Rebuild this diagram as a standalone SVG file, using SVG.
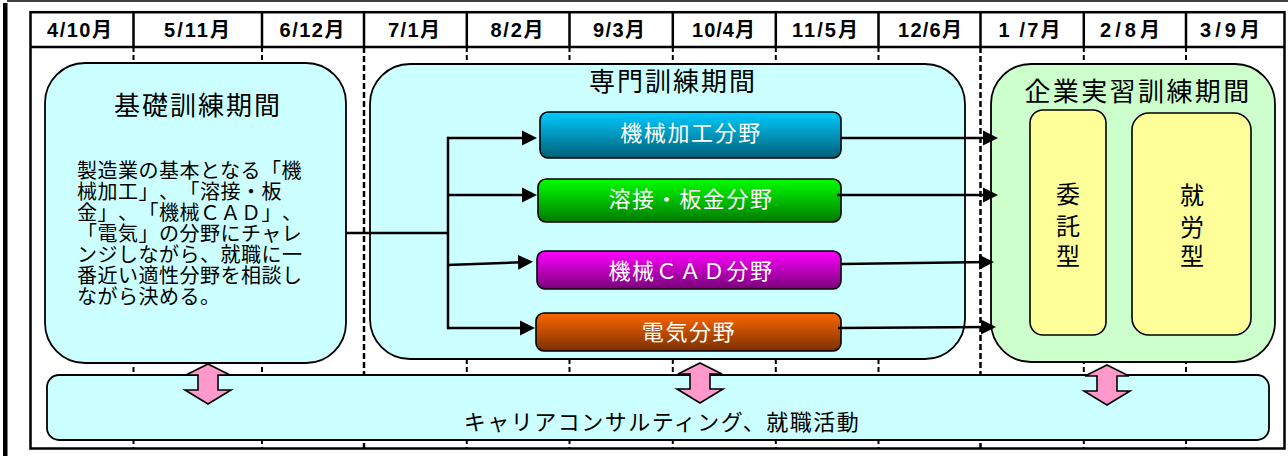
<svg xmlns="http://www.w3.org/2000/svg" width="1288" height="456" viewBox="0 0 1288 456">
<defs>
<style>
text{text-spacing-trim:space-all;}
.jp{font-family:"Noto Sans CJK JP","Noto Sans CJK SC",sans-serif;}
.hd{font-family:"Liberation Sans","Noto Sans CJK JP",sans-serif;font-weight:bold;font-size:20px;fill:#000;text-anchor:middle;}
.title{font-size:26px;letter-spacing:2px;text-anchor:middle;fill:#000;}
.body{font-size:20px;letter-spacing:0.5px;fill:#000;}
.sub{font-size:22px;letter-spacing:1.6px;text-anchor:middle;fill:#fff;}
.vert{font-size:24px;text-anchor:middle;fill:#000;}
.box{stroke:#000;stroke-width:1.8;}
.sbox{stroke:#000;stroke-width:1.6;}
.con{fill:none;stroke:#000;stroke-width:2.5;}
.dl{stroke:#000;stroke-width:2;stroke-dasharray:5 3;}
.dh{stroke:#000;stroke-width:2.5;stroke-dasharray:6 3;}
.pink{fill:#FF99CC;stroke:#000;stroke-width:1.6;stroke-linejoin:miter;}
</style>
<marker id="ah" markerUnits="userSpaceOnUse" markerWidth="16" markerHeight="16" refX="10" refY="8" orient="auto" viewBox="0 0 16 16">
<path d="M0,0.5 L15,8 L0,15.5 Z" fill="#000"/>
</marker>
<linearGradient id="gBlue" x1="0" y1="0" x2="0" y2="1"><stop offset="0" stop-color="#00CCFF"/><stop offset="1" stop-color="#005F78"/></linearGradient>
<linearGradient id="gGreen" x1="0" y1="0" x2="0" y2="1"><stop offset="0" stop-color="#00FF00"/><stop offset="1" stop-color="#007A00"/></linearGradient>
<linearGradient id="gMag" x1="0" y1="0" x2="0" y2="1"><stop offset="0" stop-color="#FF00FF"/><stop offset="1" stop-color="#7A007A"/></linearGradient>
<linearGradient id="gOrange" x1="0" y1="0" x2="0" y2="1"><stop offset="0" stop-color="#FF6600"/><stop offset="1" stop-color="#7A3000"/></linearGradient>
<path id="dbl" d="M0,0 L22,11 L10,11 L10,26 L23,26 L0,40 L-23,26 L-10,26 L-10,11 L-22,11 Z"/>
</defs>
<rect width="1288" height="456" fill="#fff"/>
<!-- page borders -->
<line x1="7" y1="1" x2="1288" y2="1" stroke="#000" stroke-width="1.5"/>
<rect x="3" y="3" width="4.5" height="453" fill="#000"/>

<!-- timeline grid -->
<g id="grid">
<g id="guides">
<line class="dl" x1="133.5" y1="47" x2="133.5" y2="448"/>
<line class="dl" x1="262" y1="47" x2="262" y2="448"/>
<line class="dh" x1="364" y1="47" x2="364" y2="448"/>
<line class="dl" x1="466.8" y1="47" x2="466.8" y2="448"/>
<line class="dl" x1="569.5" y1="47" x2="569.5" y2="448"/>
<line class="dl" x1="672.8" y1="47" x2="672.8" y2="448"/>
<line class="dl" x1="775.8" y1="47" x2="775.8" y2="448"/>
<line class="dl" x1="878.5" y1="47" x2="878.5" y2="448"/>
<line class="dh" x1="980.5" y1="47" x2="980.5" y2="448"/>
<line class="dl" x1="1083.8" y1="47" x2="1083.8" y2="448"/>
<line class="dl" x1="1186" y1="47" x2="1186" y2="448"/>
</g>
<rect x="30.5" y="12.2" width="1254" height="436.3" fill="none" stroke="#000" stroke-width="2.5"/>
<line x1="30.5" y1="47" x2="1284.5" y2="47" stroke="#000" stroke-width="2.5"/>
<g stroke="#000" stroke-width="2.5">
<line x1="133.5" y1="12" x2="133.5" y2="47"/>
<line x1="262" y1="12" x2="262" y2="47"/>
<line x1="364" y1="12" x2="364" y2="47"/>
<line x1="466.8" y1="12" x2="466.8" y2="47"/>
<line x1="569.5" y1="12" x2="569.5" y2="47"/>
<line x1="672.8" y1="12" x2="672.8" y2="47"/>
<line x1="775.8" y1="12" x2="775.8" y2="47"/>
<line x1="878.5" y1="12" x2="878.5" y2="47"/>
<line x1="980.5" y1="12" x2="980.5" y2="47"/>
<line x1="1083.8" y1="12" x2="1083.8" y2="47"/>
<line x1="1186" y1="12" x2="1186" y2="47"/>
</g>
<g id="months">
<text class="hd" x="79.5" y="37" textLength="65" lengthAdjust="spacing">4/10月</text>
<text class="hd" x="197" y="37" textLength="66" lengthAdjust="spacing">5/11月</text>
<text class="hd" x="312" y="37" textLength="65" lengthAdjust="spacing">6/12月</text>
<text class="hd" x="414" y="37" textLength="52" lengthAdjust="spacing">7/1月</text>
<text class="hd" x="517" y="37" textLength="53" lengthAdjust="spacing">8/2月</text>
<text class="hd" x="619" y="37" textLength="52" lengthAdjust="spacing">9/3月</text>
<text class="hd" x="723.5" y="37" textLength="63" lengthAdjust="spacing">10/4月</text>
<text class="hd" x="825" y="37" textLength="66" lengthAdjust="spacing">11/5月</text>
<text class="hd" x="930" y="37" textLength="64" lengthAdjust="spacing">12/6月</text>
<text class="hd" x="1029.5" y="37" textLength="62" lengthAdjust="spacing">1 /7月</text>
<text class="hd" x="1130" y="37" textLength="60" lengthAdjust="spacing">2/8月</text>
<text class="hd" x="1230" y="37" textLength="60" lengthAdjust="spacing">3/9月</text>
</g>
</g>

<!-- basic training -->
<g id="basic">
<rect class="box" x="45" y="63" width="301" height="300" rx="40" fill="#CCFFFF"/>
<text class="jp title" x="198" y="115">基礎訓練期間</text>
<text class="jp body" x="77" y="177.5">製造業の基本となる「機</text>
<text class="jp body" x="77" y="198.6">械加工」、「溶接・板</text>
<text class="jp body" x="77" y="219.7">金」、「機械ＣＡＤ」、</text>
<text class="jp body" x="77" y="240.8">「電気」の分野にチャレ</text>
<text class="jp body" x="77" y="261.9">ンジしながら、就職に一</text>
<text class="jp body" x="77" y="283">番近い適性分野を相談し</text>
<text class="jp body" x="77" y="304.1">ながら決める。</text>
</g>

<!-- specialist training -->
<g id="special">
<rect class="box" x="370" y="64" width="595" height="295" rx="40" fill="#CCFFFF"/>
<text class="jp title" x="673" y="91">専門訓練期間</text>
</g>
<g id="machining">
<rect class="sbox" x="540" y="112" width="301" height="46" rx="8" fill="url(#gBlue)"/>
<text class="jp sub" x="691" y="141">機械加工分野</text>
</g>
<g id="welding">
<rect class="sbox" x="538" y="179" width="303" height="43" rx="8" fill="url(#gGreen)"/>
<text class="jp sub" x="691" y="207">溶接・板金分野</text>
</g>
<g id="cad">
<rect class="sbox" x="537" y="251" width="304" height="38" rx="8" fill="url(#gMag)"/>
<text class="jp sub" x="691" y="279">機械ＣＡＤ分野</text>
</g>
<g id="electric">
<rect class="sbox" x="536" y="313" width="305" height="38" rx="8" fill="url(#gOrange)"/>
<text class="jp sub" x="689" y="340">電気分野</text>
</g>

<!-- enterprise training -->
<g id="enterprise">
<rect class="box" x="991" y="64" width="284" height="298" rx="40" fill="#CCFFCC"/>
<text class="jp title" x="1138" y="101" style="letter-spacing:2.4px">企業実習訓練期間</text>
</g>
<g id="itaku">
<rect class="sbox" x="1030" y="110" width="76" height="225" rx="13" fill="#FFFF99"/>
<text class="jp vert" x="1068" y="203">委</text>
<text class="jp vert" x="1068" y="235">託</text>
<text class="jp vert" x="1068" y="265">型</text>
</g>
<g id="shuro">
<rect class="sbox" x="1132" y="113" width="119" height="222" rx="17" fill="#FFFF99"/>
<text class="jp vert" x="1192" y="204">就</text>
<text class="jp vert" x="1192" y="236">労</text>
<text class="jp vert" x="1192" y="265">型</text>
</g>

<!-- career consulting -->
<g id="career">
<rect class="box" x="47" y="375" width="1222" height="65" rx="12" fill="#CCFFFF"/>
<text class="jp" x="662" y="430" font-size="22" letter-spacing="1.5" text-anchor="middle" fill="#000">キャリアコンサルティング、就職活動</text>
</g>

<!-- connectors -->
<g id="connectors">
<path class="con" d="M346,233 H448"/>
<path class="con" d="M448,136.8 V329.2"/>
<path class="con" d="M447,138 H532" marker-end="url(#ah)"/>
<path class="con" d="M447,195 H532" marker-end="url(#ah)"/>
<path class="con" d="M447,265 L528,262" marker-end="url(#ah)"/>
<path class="con" d="M447,328 H530" marker-end="url(#ah)"/>
<path class="con" d="M841,138 H993" marker-end="url(#ah)"/>
<path class="con" d="M837,195 H993" marker-end="url(#ah)"/>
<path class="con" d="M841,264 L989,262" marker-end="url(#ah)"/>
<path class="con" d="M838,328 L991,327" marker-end="url(#ah)"/>
<use href="#dbl" class="pink" transform="translate(208,364)"/>
<use href="#dbl" class="pink" transform="translate(700,363)"/>
<use href="#dbl" class="pink" transform="translate(1107,365)"/>
</g>
</svg>
